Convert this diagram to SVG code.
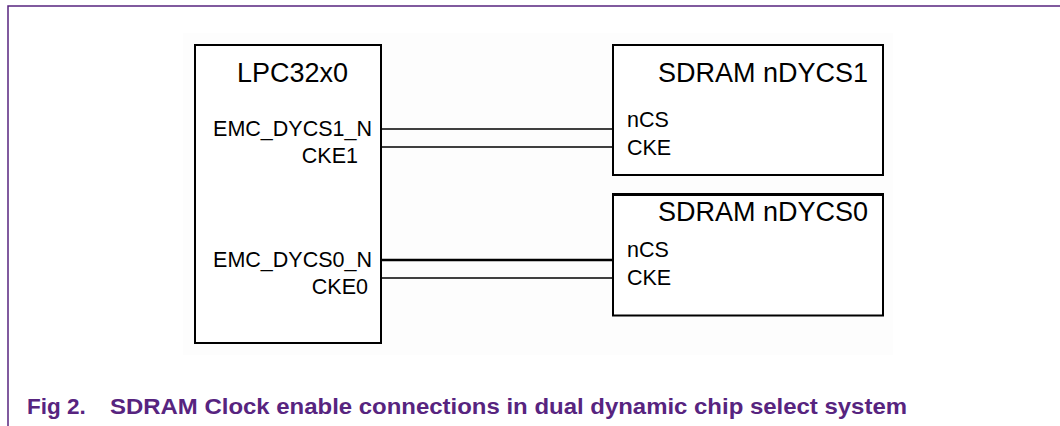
<svg xmlns="http://www.w3.org/2000/svg" width="1060" height="426" viewBox="0 0 1060 426">
<style>
.box{fill:#ffffff;stroke:#000;stroke-width:2}
.t{font-family:"Liberation Sans",Arial,sans-serif;fill:#000}
.title{font-size:27px}
.pin{font-size:21.5px}
.wire{stroke:#000;stroke-width:1.6;fill:none}
.cap{font-family:"Liberation Sans",Arial,sans-serif;font-weight:bold;font-size:22.5px;fill:#57247f}
</style>
<rect width="1060" height="426" fill="#ffffff"/>
<path d="M8,426 V6 H1060" fill="none" stroke="#57247f" stroke-width="1.5"/>
<rect x="183" y="33" width="710" height="322" fill="#fdfdfd"/>
<g id="lpc">
<rect class="box" x="195" y="45" width="186" height="298"/>
<text class="t title" x="237" y="82">LPC32x0</text>
<text class="t pin" x="372" y="136" text-anchor="end">EMC_DYCS1_N</text>
<text class="t pin" x="358" y="163" text-anchor="end">CKE1</text>
<text class="t pin" x="372" y="267" text-anchor="end">EMC_DYCS0_N</text>
<text class="t pin" x="368" y="294" text-anchor="end">CKE0</text>
</g>
<g id="sdram1">
<rect class="box" x="613" y="45" width="270" height="130"/>
<text class="t title" x="868" y="82" text-anchor="end">SDRAM nDYCS1</text>
<text class="t pin" x="627" y="127">nCS</text>
<text class="t pin" x="627" y="155">CKE</text>
</g>
<g id="sdram0">
<rect class="box" x="613" y="194.5" width="270" height="121"/>
<line x1="612" y1="194.5" x2="884" y2="194.5" stroke="#000" stroke-width="3"/>
<text class="t title" x="868" y="221" text-anchor="end">SDRAM nDYCS0</text>
<text class="t pin" x="627" y="257">nCS</text>
<text class="t pin" x="627" y="285">CKE</text>
</g>
<g id="connectors">
<line class="wire" x1="382" y1="129" x2="613" y2="129"/>
<line class="wire" x1="382" y1="147" x2="613" y2="147"/>
<line class="wire" x1="382" y1="260" x2="613" y2="260" style="stroke-width:2.6"/>
<line class="wire" x1="382" y1="278" x2="613" y2="278"/>
</g>
<text class="cap" x="27" y="414">Fig 2.</text>
<text class="cap" x="110" y="414" textLength="797" lengthAdjust="spacingAndGlyphs">SDRAM Clock enable connections in dual dynamic chip select system</text>
</svg>
